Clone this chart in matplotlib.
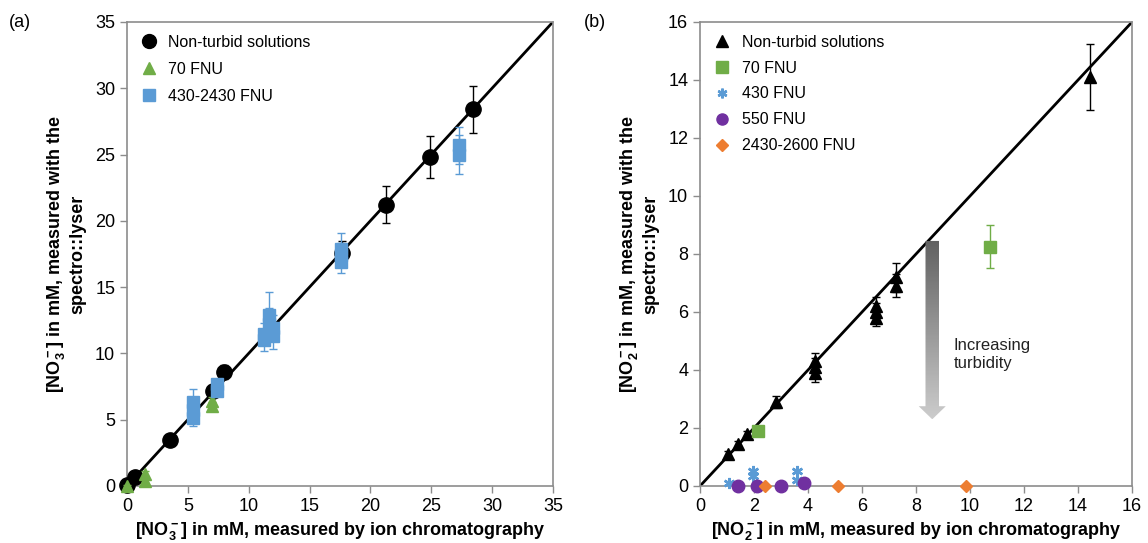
import numpy as np
import matplotlib.pyplot as plt
from matplotlib.patches import FancyArrow
from matplotlib.lines import Line2D

plt.rcParams['font.family'] = ['Liberation Sans', 'DejaVu Sans']
plt.rcParams['mathtext.default'] = 'regular'

BLACK = 'black'
GREEN = '#70AD47'
BLUE = '#5B9BD5'
PURPLE = '#7030A0'
ORANGE = '#ED7D31'
FRAME = '#8c8c8c'
ASTERISK = (6, 2, 0)

# ---- nitrate (a) ----
no3_clear_x = [0.0, 0.7, 3.5, 7.1, 8.0, 17.7, 21.3, 24.9, 28.4]
no3_clear_y = [0.1, 0.7, 3.5, 7.2, 8.6, 17.6, 21.2, 24.8, 28.4]
no3_clear_err = [0.1, 0.1, 0.2, 0.3, 0.5, 0.9, 1.4, 1.6, 1.8]

no3_70_x = [0.0, 1.5, 1.5, 7.0, 7.0]
no3_70_y = [0.0, 0.4, 0.9, 6.0, 6.4]
no3_70_err = [0.1, 0.2, 0.2, 0.3, 0.3]

no3_high_x = [5.4, 5.4, 5.4, 7.4, 7.4, 11.3, 11.3, 11.7, 11.7, 12.0, 12.0,
              17.6, 17.6, 17.6, 27.3, 27.3]
no3_high_y = [5.1, 5.7, 6.3, 7.2, 7.7, 11.0, 11.5, 12.2, 12.9, 11.3, 11.9,
              16.9, 17.4, 17.9, 25.0, 25.7]
no3_high_err = [0.6, 0.8, 1.0, 0.4, 0.4, 0.8, 0.8, 1.2, 1.7, 1.0, 1.0,
                0.8, 0.9, 1.2, 1.5, 1.4]

# ---- nitrite (b) ----
no2_clear_x = [1.04, 1.4, 1.75, 2.8, 4.25, 4.25, 4.25, 6.5, 6.5, 6.5, 7.25, 7.25, 14.45]
no2_clear_y = [1.1, 1.45, 1.8, 2.9, 3.9, 4.1, 4.3, 5.8, 6.0, 6.2, 6.9, 7.2, 14.1]
no2_clear_err = [0.1, 0.1, 0.1, 0.2, 0.3, 0.3, 0.3, 0.3, 0.3, 0.3, 0.4, 0.5, 1.15]

no2_70_x = [2.15, 10.75]
no2_70_y = [1.9, 8.25]
no2_70_err = [0.05, 0.75]

no2_430_x = [1.07, 1.96, 1.96, 3.6, 3.6]
no2_430_y = [0.12, 0.35, 0.5, 0.2, 0.5]

no2_550_x = [1.4, 2.1, 3.0, 3.85]
no2_550_y = [0.0, 0.0, 0.0, 0.12]

no2_2430_x = [2.4, 5.1, 9.85]
no2_2430_y = [0.0, 0.0, 0.0]

fig = plt.figure(figsize=(11.48, 5.43), dpi=100)
ax1 = fig.add_axes([0.1106, 0.105, 0.371, 0.8545])
ax2 = fig.add_axes([0.6098, 0.105, 0.3763, 0.8545])


def style(ax, lim, step):
    ax.set_xlim(0, lim)
    ax.set_ylim(0, lim)
    ax.set_xticks(np.arange(0, lim + 1, step))
    ax.set_yticks(np.arange(0, lim + 1, step))
    for s in ax.spines.values():
        s.set_color(FRAME)
        s.set_linewidth(1.2)
    ax.tick_params(direction='out', length=5, width=1, color=FRAME, labelsize=13)


def key(marker, color, ms, label, mew=1):
    return Line2D([], [], ls='none', marker=marker, color=color, ms=ms,
                  mew=mew, label=label)


# panel (a)
ax1.plot([0, 35], [0, 35], color='black', lw=2, zorder=1)
ax1.errorbar(no3_clear_x, no3_clear_y, yerr=no3_clear_err, fmt='o', color=BLACK,
             ms=11, capsize=3, elinewidth=1, clip_on=False, zorder=3)
ax1.errorbar(no3_70_x, no3_70_y, yerr=no3_70_err, fmt='^', color=GREEN,
             ms=9, capsize=3, elinewidth=1, clip_on=False, zorder=4)
ax1.errorbar(no3_high_x, no3_high_y, yerr=no3_high_err, fmt='s', color=BLUE,
             ms=8, capsize=3, elinewidth=1, zorder=4)
style(ax1, 35, 5)
ax1.set_xlabel('[NO$_3^-$] in mM, measured by ion chromatography',
               fontsize=13, fontweight='bold', labelpad=4)
ax1.set_ylabel('[NO$_3^-$] in mM, measured with the\nspectro::lyser',
               fontsize=13, fontweight='bold', labelpad=6)
ax1.legend(handles=[key('o', BLACK, 10, 'Non-turbid solutions'),
                    key('^', GREEN, 9, '70 FNU'),
                    key('s', BLUE, 8, '430-2430 FNU')],
           loc='upper left', frameon=False, fontsize=11.5, handletextpad=0.6,
           handlelength=1.2, borderaxespad=0.4, labelspacing=0.75)

# panel (b)
ax2.plot([0, 16], [0, 16], color='black', lw=2, zorder=1)
ax2.errorbar(no2_clear_x, no2_clear_y, yerr=no2_clear_err, fmt='^', color=BLACK,
             ms=9, capsize=3, elinewidth=1, zorder=3)
ax2.errorbar(no2_70_x, no2_70_y, yerr=no2_70_err, fmt='s', color=GREEN,
             ms=9, capsize=3, elinewidth=1, zorder=4)
ax2.plot(no2_430_x, no2_430_y, ls='none', marker=ASTERISK, color=BLUE, ms=8,
         mew=1.8, clip_on=False, zorder=4)
ax2.plot(no2_550_x, no2_550_y, 'o', color=PURPLE, ms=9, clip_on=False, zorder=4)
ax2.plot(no2_2430_x, no2_2430_y, 'D', color=ORANGE, ms=6.5, clip_on=False, zorder=5)
style(ax2, 16, 2)
ax2.set_xlabel('[NO$_2^-$] in mM, measured by ion chromatography',
               fontsize=13, fontweight='bold', labelpad=4)
ax2.set_ylabel('[NO$_2^-$] in mM, measured with the\nspectro::lyser',
               fontsize=13, fontweight='bold', labelpad=6)
ax2.legend(handles=[key('^', BLACK, 8, 'Non-turbid solutions'),
                    key('s', GREEN, 8, '70 FNU'),
                    key(ASTERISK, BLUE, 7, '430 FNU', mew=1.8),
                    key('o', PURPLE, 8, '550 FNU'),
                    key('D', ORANGE, 6, '2430-2600 FNU')],
           loc='upper left', frameon=False, fontsize=11.5, handletextpad=0.6,
           handlelength=1.2, borderaxespad=0.4, labelspacing=0.68)

# grey gradient arrow showing increasing turbidity
arrow = FancyArrow(8.6, 8.45, 0, -6.15, width=0.5, head_width=1.0,
                   head_length=0.45, length_includes_head=True,
                   transform=ax2.transData, facecolor='none', edgecolor='none')
ax2.add_patch(arrow)
grad = np.linspace(0.38, 0.8, 256).reshape(-1, 1)
img = ax2.imshow(grad, cmap='gray', vmin=0, vmax=1, aspect='auto',
                 extent=(7.9, 9.3, 2.3, 8.45), origin='upper', zorder=2)
img.set_clip_path(arrow)
ax2.set_xlim(0, 16)
ax2.set_ylim(0, 16)
ax2.text(9.4, 5.1, 'Increasing\nturbidity', fontsize=12, va='top', ha='left',
         color='#222222', linespacing=1.25)

fig.text(0.008, 0.958, '(a)', fontsize=13, va='center')
fig.text(0.509, 0.958, '(b)', fontsize=13, va='center')

fig.savefig('out.png', dpi=100)
